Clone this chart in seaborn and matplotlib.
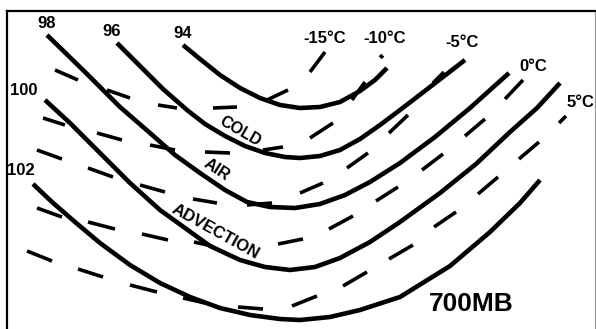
import numpy as np
import pandas as pd
import seaborn as sns
import matplotlib.pyplot as plt

# 700 mb chart: height contours (solid) and isotherms (dashed), in image pixel units
sns.set_theme(style="white")
plt.rcParams['font.family'] = ['Liberation Sans', 'DejaVu Sans']
plt.rcParams['text.color'] = 'black'

# height contours
h94_x = [183, 200, 220, 240, 260, 280, 300, 320, 340, 360, 375, 387]
h94_y = [45, 59, 75, 88, 98, 105, 108, 107, 102, 91, 80, 68]
h96_x = [117, 140, 163, 187, 205, 225, 245, 265, 285, 300, 320, 340, 360, 380, 400, 430, 465]
h96_y = [43, 66, 89, 110, 124, 136, 146, 153, 157, 158, 156, 150, 139, 125, 110, 87, 60]
h98_x = [47, 85, 120, 150, 175, 200, 225, 247, 270, 295, 320, 345, 370, 400, 435, 470, 509]
h98_y = [35, 72, 107, 133, 155, 173, 190, 202, 207, 208, 204, 195, 182, 163, 137, 108, 73]
h100_x = [45, 70, 100, 130, 160, 185, 210, 240, 265, 290, 315, 340, 370, 400, 440, 476, 510, 537, 560]
h100_y = [100, 123, 153, 183, 210, 228, 246, 260, 267, 270, 267, 258, 242, 222, 193, 164, 132, 108, 83]
h102_x = [33, 52, 75, 100, 130, 160, 190, 220, 250, 280, 300, 330, 360, 400, 450, 490, 520, 540]
h102_y = [184, 202, 222, 243, 265, 283, 297, 308, 315, 319, 320, 317, 310, 297, 266, 232, 203, 180]

contours = {
    "94": (h94_x, h94_y),
    "96": (h96_x, h96_y),
    "98": (h98_x, h98_y),
    "100": (h100_x, h100_y),
    "102": (h102_x, h102_y),
}
contour_labels = ["98", "96", "94", "100", "102"]
contour_label_x = [47, 112, 183, 24, 21]
contour_label_y = [24, 32, 34, 91, 171]

# isotherm dashes (start/end pairs)
t_m15_x = [55, 78, 107, 130, 158, 177, 213, 237, 267, 288, 310, 325]
t_m15_y = [70, 80, 90, 98, 105, 108, 108, 107, 100, 90, 72, 52]
t_m10_x = [43, 65, 97, 122, 150, 175, 205, 230, 263, 283, 310, 333, 352, 365, 380, 383]
t_m10_y = [118, 125, 133, 140, 145, 150, 152, 153, 150, 147, 138, 123, 100, 82, 55, 58]
t_m5_x = [37, 62, 88, 113, 140, 165, 193, 217, 247, 272, 300, 323, 347, 368, 389, 408, 433, 444]
t_m5_y = [150, 159, 168, 177, 185, 192, 199, 203, 205, 203, 193, 183, 168, 153, 133, 115, 83, 72]
t_0_x = [37, 62, 88, 115, 142, 168, 194, 212, 278, 303, 329, 353, 376, 398, 422, 443, 465, 485, 505, 523]
t_0_y = [208, 217, 222, 229, 234, 240, 242, 246, 244, 239, 229, 216, 201, 187, 170, 154, 136, 119, 99, 80]
t_5_x = [27, 52, 78, 103, 130, 157, 183, 205, 238, 263, 292, 317, 343, 367, 389, 413, 434, 456, 478, 498, 519, 539, 559, 566]
t_5_y = [251, 261, 269, 277, 285, 292, 298, 303, 307, 309, 306, 296, 286, 272, 259, 245, 227, 212, 194, 177, 159, 142, 123, 116]

isotherms = {
    "-15": (t_m15_x, t_m15_y),
    "-10": (t_m10_x, t_m10_y),
    "-5": (t_m5_x, t_m5_y),
    "0": (t_0_x, t_0_y),
    "5": (t_5_x, t_5_y),
}
iso_labels = ["-15°C", "-10°C", "-5°C", "0°C", "5°C"]
iso_label_x = [325, 385, 462, 533, 580]
iso_label_y = [39, 39, 43, 67, 103]

# long tables for seaborn
solid_df = pd.concat(
    [pd.DataFrame({"x": xs, "y": ys, "level": name}) for name, (xs, ys) in contours.items()],
    ignore_index=True)
dash_df = pd.concat(
    [pd.DataFrame({"x": xs, "y": ys, "dash": [f"{name}_{i // 2}" for i in range(len(xs))]})
     for name, (xs, ys) in isotherms.items()],
    ignore_index=True)

W, H = 596, 329
fig = plt.figure(figsize=(W / 100, H / 100), dpi=100)
ax = fig.add_axes([7 / W, 0, (595 - 7) / W, (H - 11) / H])
ax.set_xlim(7, 595)
ax.set_ylim(H, 11)

sns.lineplot(data=solid_df, x="x", y="y", units="level", estimator=None, sort=False,
             color="black", linewidth=3.3, ax=ax, solid_capstyle="butt", solid_joinstyle="round")
sns.lineplot(data=dash_df, x="x", y="y", units="dash", estimator=None, sort=False,
             color="black", linewidth=2.6, ax=ax, solid_capstyle="butt")

for lab, x, y in zip(contour_labels, contour_label_x, contour_label_y):
    ax.text(x, y, lab, ha="center", va="center", fontsize=12, fontweight="bold", color="black")
for lab, x, y in zip(iso_labels, iso_label_x, iso_label_y):
    ax.text(x, y, lab, ha="center", va="center", fontsize=12, fontweight="bold", color="black")

ax.text(240, 131, "COLD", rotation=-30, rotation_mode="anchor", ha="center", va="center",
        fontsize=11.5, fontweight="bold", color="black")
ax.text(217, 170, "AIR", rotation=-33, rotation_mode="anchor", ha="center", va="center",
        fontsize=11.5, fontweight="bold", color="black")
ax.text(215, 232, "ADVECTION", rotation=-29, rotation_mode="anchor", ha="center", va="center",
        fontsize=12, fontweight="bold", color="black")
ax.text(471, 304, "700MB", ha="center", va="center", fontsize=19, fontweight="bold", color="black")

ax.set_xticks([])
ax.set_yticks([])
ax.set_xlabel("")
ax.set_ylabel("")
ax.spines["bottom"].set_visible(False)
for s in ["top", "left"]:
    ax.spines[s].set_color("black")
    ax.spines[s].set_linewidth(1.6)
ax.spines["right"].set_color("#999999")
ax.spines["right"].set_linewidth(0.8)

fig.savefig("out.png", dpi=100)
